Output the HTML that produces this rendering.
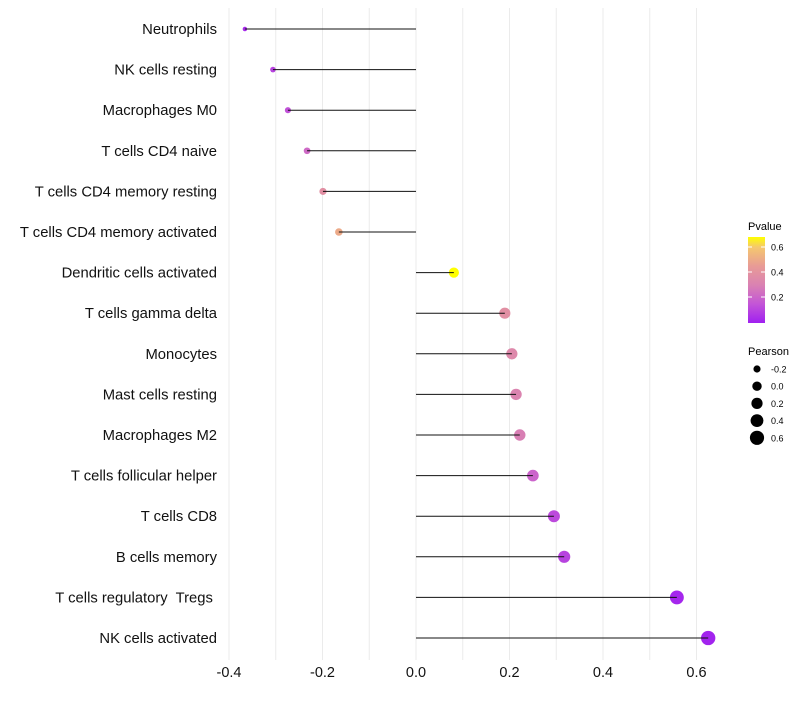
<!DOCTYPE html>
<html><head><meta charset="utf-8"><style>
body{margin:0;background:#fff;font-family:"Liberation Sans",sans-serif}
</style></head><body>
<svg id="c" width="800" height="700" xmlns="http://www.w3.org/2000/svg" font-family="Liberation Sans, sans-serif"></svg>
<script>
const categories=["Neutrophils","NK cells resting","Macrophages M0","T cells CD4 naive","T cells CD4 memory resting","T cells CD4 memory activated","Dendritic cells activated","T cells gamma delta","Monocytes","Mast cells resting","Macrophages M2","T cells follicular helper","T cells CD8","B cells memory","T cells regulatory  Tregs ","NK cells activated"];
const pearson=[-0.366,-0.306,-0.274,-0.233,-0.199,-0.165,0.081,0.190,0.205,0.214,0.222,0.250,0.295,0.317,0.558,0.625];
const pvalue=[0.03,0.1,0.14,0.22,0.38,0.5,0.68,0.38,0.34,0.31,0.29,0.2,0.12,0.1,0.02,0.01];
const xTicks=[-0.4,-0.2,0.0,0.2,0.4,0.6];
const xTickLabels=["-0.4","-0.2","0.0","0.2","0.4","0.6"];
const pTicks=[0.2,0.4,0.6];
const sizeTicks=[-0.2,0.0,0.2,0.4,0.6];
const sizeTickLabels=["-0.2","0.0","0.2","0.4","0.6"];

const svg=document.getElementById('c');const NS="http://www.w3.org/2000/svg";
function mk(t,a,p){const e=document.createElementNS(NS,t);for(const k in a)e.setAttribute(k,a[k]);(p||svg).appendChild(e);return e;}
const X=v=>416+v*467.5;
const Y=i=>29+i*40.6;
const R=v=>Math.sqrt(5+46.5*Math.max(0,(v+0.366)/0.991));
const stops=[[0,[160,32,240]],[0.15,[195,85,215]],[0.3,[218,130,178]],[0.45,[232,155,150]],[0.6,[245,200,110]],[0.68,[255,255,0]]];
function col(p){p=Math.max(0,Math.min(0.68,p));for(let i=1;i<stops.length;i++){if(p<=stops[i][0]){const a=stops[i-1],b=stops[i],t=(p-a[0])/(b[0]-a[0]);return "rgb("+a[1].map((c,j)=>Math.round(c+(b[1][j]-c)*t)).join(",")+")";}}return "rgb(255,255,0)";}
const g=mk('g',{});
for(let v=-0.4;v<=0.61;v+=0.1){mk('line',{x1:X(v),x2:X(v),y1:8,y2:660,stroke:'#ebebeb','stroke-width':1},g);}
xTicks.forEach((v,i)=>{const t=mk('text',{x:X(v),y:677,'text-anchor':'middle','font-size':14.5,fill:'#111'});t.textContent=xTickLabels[i];});
categories.forEach((c,i)=>{const t=mk('text',{x:217,y:Y(i)+5,'text-anchor':'end','font-size':14.8,fill:'#111'});t.setAttribute('xml:space','preserve');t.style.whiteSpace='pre';t.textContent=c;
const d=mk('circle',{cx:X(pearson[i]),cy:Y(i),r:R(pearson[i]),fill:col(pvalue[i])});
const l=mk('line',{x1:X(0),x2:X(pearson[i]),y1:Y(i),y2:Y(i),stroke:'#111','stroke-width':1});});
let t=mk('text',{x:748,y:230,'font-size':11});t.textContent="Pvalue";
const defs=mk('defs',{});const lg=mk('linearGradient',{id:'pg',x1:0,y1:1,x2:0,y2:0},defs);
stops.forEach(s=>mk('stop',{offset:(s[0]/0.68),'stop-color':col(s[0])},lg));
const pb=mk('rect',{x:748,y:237,width:17,height:86,fill:'url(#pg)'});
pTicks.forEach(p=>{const y=297-(p-0.2)*125;mk('line',{x1:748,x2:752,y1:y,y2:y,stroke:'#fff'});mk('line',{x1:761,x2:765,y1:y,y2:y,stroke:'#fff'});const tt=mk('text',{x:771,y:y+3.5,'font-size':9});tt.textContent=p.toFixed(1);});
t=mk('text',{x:748,y:355,'font-size':11});t.textContent="Pearson";
sizeTicks.forEach((v,i)=>{const y=369+i*17.2;const c=mk('circle',{cx:757,cy:y,r:R(v),fill:'#000'});const tt=mk('text',{x:771,y:y+3.5,'font-size':9});tt.textContent=sizeTickLabels[i];});
</script>
</body></html>
